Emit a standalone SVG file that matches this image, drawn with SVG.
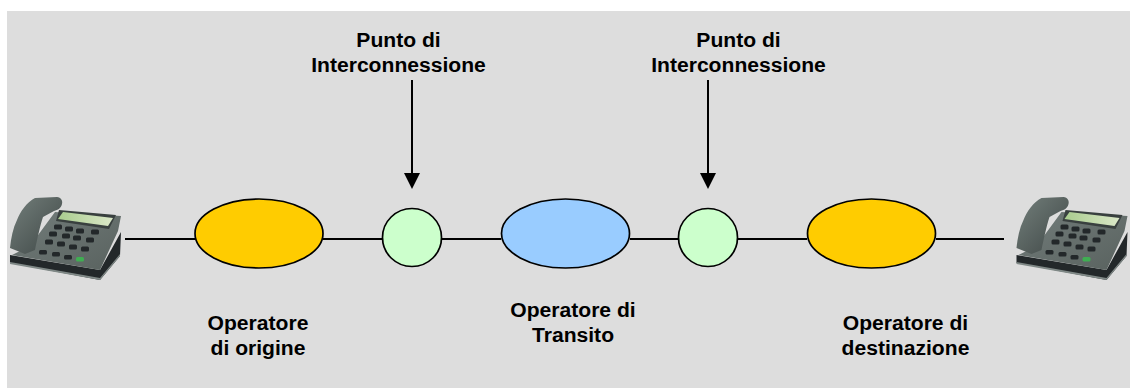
<svg xmlns="http://www.w3.org/2000/svg" width="1130" height="388" viewBox="0 0 1130 388">
<style>
.lbl{font-family:"Liberation Sans",Arial,sans-serif;font-weight:bold;font-size:21.1px;fill:#000;text-anchor:middle}
.ln{stroke:#000;stroke-width:2;fill:none}
.op{stroke:#000;stroke-width:1.7}
.or{fill:#ffcc00}.bl{fill:#99ccff}.gr{fill:#ccffcc}
.key{fill:#23282a}
</style>
<defs>
<linearGradient id="hs" x1="0" y1="0" x2="1" y2="1"><stop offset="0" stop-color="#737f7b"/><stop offset="1" stop-color="#3e4645"/></linearGradient>
<linearGradient id="bd" x1="0" y1="0" x2="1" y2="1"><stop offset="0" stop-color="#727c7a"/><stop offset="1" stop-color="#59625f"/></linearGradient>
<linearGradient id="sc" x1="0" y1="0" x2="1" y2="0"><stop offset="0" stop-color="#a9cc8e"/><stop offset="1" stop-color="#dbe8c8"/></linearGradient>
<marker id="ah" markerUnits="userSpaceOnUse" markerWidth="16" markerHeight="16" refX="1" refY="8" orient="auto"><path d="M0 0L16 8L0 16Z" fill="#000"/></marker>
<g id="phone">
<path d="M10 255L100 270L121 232L120 256L100 280L10 263Z" fill="#23282a"/>
<path d="M10 262L100 278L120 254L120 256L100 280L10 264Z" fill="#7f8886"/>
<path d="M55 212L121 216L118 231L100 270L12 255L30 246Z" fill="url(#bd)"/>
<path d="M59 210L116 215L109 229L56 221Z" fill="#39403f"/>
<path d="M63 212L113 218L108 226L58 219Z" fill="url(#sc)"/>
<path d="M35 198L57 197C61 197 63 201 62 204C61 208 58 210 54 211L43 217C40 226 37 240 35 250L25 254L10 248C11 238 13 228 17 220C20 212 27 202 35 198Z" fill="url(#hs)"/>
<g class="key">
<rect x="54" y="224.500" width="8" height="5" rx="1.500"/><rect x="65" y="226.500" width="8" height="5" rx="1.500"/><rect x="76" y="228.500" width="8" height="5" rx="1.500"/><rect x="91" y="229.500" width="8" height="5" rx="1.500"/>
<rect x="49" y="231.500" width="8" height="5" rx="1.500"/><rect x="62" y="233.500" width="8" height="5" rx="1.500"/><rect x="73" y="235.500" width="8" height="5" rx="1.500"/><rect x="86" y="237.500" width="8" height="5" rx="1.500"/>
<rect x="45" y="239.500" width="8" height="5" rx="1.500"/><rect x="57" y="241.500" width="8" height="5" rx="1.500"/><rect x="69" y="244.500" width="8" height="5" rx="1.500"/><rect x="81" y="246.500" width="8" height="5" rx="1.500"/>
<rect x="39" y="250" width="8" height="4.500" rx="1.500"/><rect x="52" y="252" width="8" height="4.500" rx="1.500"/><rect x="64" y="255" width="8" height="4.500" rx="1.500"/>
</g>
<rect x="76" y="257" width="8" height="4.500" rx="1.500" fill="#3fae52"/>
</g>
</defs>
<rect x="7" y="11" width="1123" height="377" fill="#dddddd"/>
<g id="connectors">
<path class="ln" d="M125 239H195M323 239H383M442 239H501M630 239H679M738 239H807M936 239H1004"/>
<path class="ln" marker-end="url(#ah)" d="M412 80V174"/>
<path class="ln" marker-end="url(#ah)" d="M708 80V174"/>
</g>
<g id="phone-left"><use href="#phone"/></g>
<g id="phone-right"><use href="#phone" x="1006.500" y="0"/></g>
<g id="op-origine"><ellipse class="op or" cx="259" cy="233.500" rx="64" ry="34.500"/><text class="lbl" x="258" y="330">Operatore</text><text class="lbl" x="258" y="355">di origine</text></g>
<g id="pi-1"><ellipse class="op gr" cx="412" cy="237.500" rx="29.500" ry="29"/><text class="lbl" x="398.500" y="47">Punto di</text><text class="lbl" x="398.500" y="72">Interconnessione</text></g>
<g id="op-transito"><ellipse class="op bl" cx="565.500" cy="233.500" rx="64" ry="34.500"/><text class="lbl" x="573" y="317">Operatore di</text><text class="lbl" x="573" y="342">Transito</text></g>
<g id="pi-2"><ellipse class="op gr" cx="708" cy="237.500" rx="29.500" ry="29"/><text class="lbl" x="738.500" y="47">Punto di</text><text class="lbl" x="738.500" y="72">Interconnessione</text></g>
<g id="op-destinazione"><ellipse class="op or" cx="871.500" cy="233.500" rx="64" ry="34.500"/><text class="lbl" x="905.500" y="330">Operatore di</text><text class="lbl" x="905.500" y="355">destinazione</text></g>
</svg>
